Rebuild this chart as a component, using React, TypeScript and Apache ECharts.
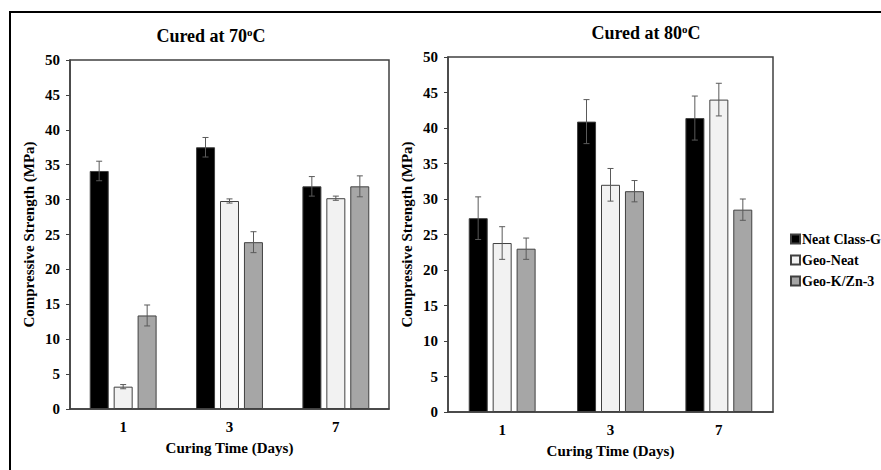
import React, { useEffect, useRef } from 'react';
import * as echarts from 'echarts';

const categories = ['1', '3', '7'];
const seriesNames = ['Neat Class-G', 'Geo-Neat', 'Geo-K/Zn-3'];
const seriesColors = ['#000000', '#f2f2f2', '#a6a6a6'];

const neat70 = [34.1, 37.5, 31.9];
const neat70Err = [1.4, 1.4, 1.4];
const geoNeat70 = [3.2, 29.8, 30.2];
const geoNeat70Err = [0.3, 0.3, 0.3];
const geoKZn70 = [13.4, 23.9, 31.9];
const geoKZn70Err = [1.5, 1.5, 1.5];

const neat80 = [27.3, 40.9, 41.4];
const neat80Err = [3.0, 3.1, 3.1];
const geoNeat80 = [23.8, 32.0, 44.0];
const geoNeat80Err = [2.3, 2.3, 2.3];
const geoKZn80 = [23.0, 31.1, 28.5];
const geoKZn80Err = [1.5, 1.5, 1.5];

const yMin = 0;
const yMax = 50;
const yInterval = 5;

const FONT = '"Liberation Serif", "DejaVu Serif", serif';
const BAR_W = 19;
const OFFSET = 24;

export default function App() {
  const ref = useRef<HTMLDivElement>(null);
  useEffect(() => {
    if (!ref.current) return;
    const chart = echarts.init(ref.current, null, { renderer: 'svg' });

    const panels = [
      { vals: [neat70, geoNeat70, geoKZn70], errs: [neat70Err, geoNeat70Err, geoKZn70Err] },
      { vals: [neat80, geoNeat80, geoKZn80], errs: [neat80Err, geoNeat80Err, geoKZn80Err] },
    ];

    const series: any[] = [];
    panels.forEach((p, gi) => {
      p.vals.forEach((vals, si) => {
        series.push({
          type: 'bar',
          name: seriesNames[si],
          xAxisIndex: gi,
          yAxisIndex: gi,
          data: vals,
          barWidth: BAR_W,
          barGap: '26%',
          itemStyle: { color: seriesColors[si], borderColor: '#404040', borderWidth: 1 },
          z: 2,
        });
      });
      const errData: number[][] = [];
      p.vals.forEach((vals, si) => {
        vals.forEach((v, ci) => {
          errData.push([ci, v - p.errs[si][ci], v + p.errs[si][ci], si]);
        });
      });
      series.push({
        type: 'custom',
        name: 'err' + gi,
        xAxisIndex: gi,
        yAxisIndex: gi,
        data: errData,
        encode: { x: 0, y: [1, 2] },
        z: 5,
        renderItem: (params: any, api: any) => {
          const c = api.value(0);
          const lo = api.coord([c, api.value(1)]);
          const hi = api.coord([c, api.value(2)]);
          const x = lo[0] + (api.value(3) - 1) * OFFSET;
          const st = { stroke: '#5a5a5a', lineWidth: 1 };
          return {
            type: 'group',
            children: [
              { type: 'line', shape: { x1: x, y1: lo[1], x2: x, y2: hi[1] }, style: st },
              { type: 'line', shape: { x1: x - 3, y1: lo[1], x2: x + 3, y2: lo[1] }, style: st },
              { type: 'line', shape: { x1: x - 3, y1: hi[1], x2: x + 3, y2: hi[1] }, style: st },
            ],
          };
        },
      });
    });

    const labelStyle = { fontFamily: FONT, fontWeight: 'bold', fontSize: 15, color: '#000' };

    const mkX = (gi: number) => ({
      type: 'category',
      gridIndex: gi,
      data: categories,
      axisLine: { show: true, lineStyle: { color: '#404040', width: 1.5 } },
      axisTick: { show: false },
      axisLabel: { ...labelStyle, margin: 10 },
      name: 'Curing Time (Days)',
      nameLocation: 'middle',
      nameGap: 31,
      nameTextStyle: labelStyle,
    });
    const mkY = (gi: number) => ({
      type: 'value',
      gridIndex: gi,
      min: yMin,
      max: yMax,
      interval: yInterval,
      splitLine: { show: false },
      axisLine: { show: true, lineStyle: { color: '#404040', width: 1.5 } },
      axisTick: { show: true, length: 4, lineStyle: { color: '#404040' } },
      axisLabel: { ...labelStyle, margin: 10 },
      name: 'Compressive Strength (MPa)',
      nameLocation: 'middle',
      nameGap: 34,
      nameTextStyle: labelStyle,
    });

    const titleRich = {
      n: { fontFamily: FONT, fontWeight: 'bold', fontSize: 18, color: '#000', lineHeight: 20 },
      s: { fontFamily: FONT, fontWeight: 'bold', fontSize: 11, color: '#000', verticalAlign: 'top', lineHeight: 20 },
    };

    chart.setOption({
      animation: false,
      backgroundColor: '#fff',
      title: [
        {
          text: '{n|Cured at 70}{s|o}{n|C}',
          left: 206,
          top: 21,
          textAlign: 'center',
          textStyle: { rich: titleRich },
        },
        {
          text: '{n|Cured at 80}{s|o}{n|C}',
          left: 641,
          top: 18,
          textAlign: 'center',
          textStyle: { rich: titleRich },
        },
      ],
      legend: {
        orient: 'vertical',
        left: 785,
        top: 227,
        data: seriesNames,
        itemWidth: 9,
        itemHeight: 9,
        itemGap: 7,
        icon: 'rect',
        textStyle: { ...labelStyle, fontSize: 14, padding: [0, 0, 0, -3] },
      },
      grid: [
        { left: 70, top: 60, width: 319, height: 349, show: true, borderColor: '#404040', borderWidth: 1.5, backgroundColor: 'transparent' },
        { left: 448, top: 57, width: 325, height: 355, show: true, borderColor: '#404040', borderWidth: 1.5, backgroundColor: 'transparent' },
      ],
      xAxis: [mkX(0), mkX(1)],
      yAxis: [mkY(0), mkY(1)],
      series,
      graphic: [
        {
          type: 'rect',
          shape: { x: 10, y: 12, width: 890, height: 480 },
          style: { fill: 'none', stroke: '#000', lineWidth: 2 },
          silent: true,
        },
      ],
    });
    return () => chart.dispose();
  }, []);
  return (
    <div
      ref={ref}
      style={{ position: 'fixed', left: 0, top: 0, width: 881, height: 470 }}
    />
  );
}
